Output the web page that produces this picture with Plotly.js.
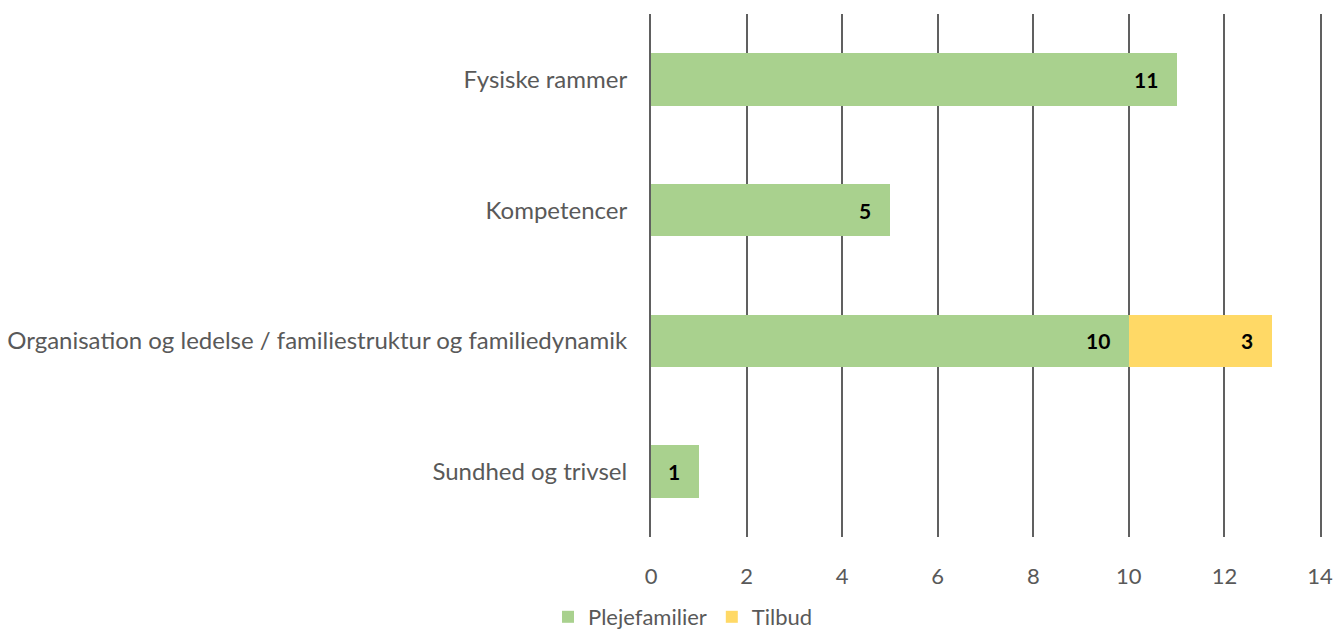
<!DOCTYPE html>
<html>
<head>
<meta charset="utf-8">
<script src="https://cdn.plot.ly/plotly-3.0.1.min.js"></script>
<style>html,body{margin:0;padding:0;background:#fff;}#chart{width:1334px;height:638px;}</style>
</head>
<body>
<div id="chart"></div>
<script>
const categories = ["Fysiske rammer", "Kompetencer", "Organisation og ledelse / familiestruktur og familiedynamik", "Sundhed og trivsel"];
const plejefamilier = [11, 5, 10, 1];
const tilbud = [0, 0, 3, 0];
const xTicks = [0, 2, 4, 6, 8, 10, 12, 14];

const green = "#A9D18E", yellow = "#FFD966";
const fontFam = "Lato, 'Open Sans', sans-serif";
const gridCol = "#606060";

const traces = [
  {type: "bar", orientation: "h", name: "Plejefamilier", y: categories, x: plejefamilier,
   marker: {color: green}, hoverinfo: "x"},
  {type: "bar", orientation: "h", name: "Tilbud", y: categories, x: tilbud,
   marker: {color: yellow}, hoverinfo: "x"}
];

const annotations = [];
categories.forEach((c, i) => {
  if (plejefamilier[i] > 0) annotations.push({x: plejefamilier[i], y: c, xref: "x", yref: "y",
    text: "<b>" + plejefamilier[i] + "</b>", showarrow: false, xanchor: "right", xshift: -17,
    font: {family: fontFam, size: 21, color: "#000"}});
  if (tilbud[i] > 0) annotations.push({x: plejefamilier[i] + tilbud[i], y: c, xref: "x", yref: "y",
    text: "<b>" + tilbud[i] + "</b>", showarrow: false, xanchor: "right", xshift: -17,
    font: {family: fontFam, size: 21, color: "#000"}});
});

const layout = {
  width: 1334, height: 638,
  margin: {l: 651, r: 14, t: 14, b: 101},
  barmode: "stack", bargap: 0.6,
  paper_bgcolor: "#fff", plot_bgcolor: "#fff",
  font: {family: fontFam, size: 23, color: "#595959"},
  xaxis: {range: [0, 14], tickvals: xTicks, ticktext: xTicks.map(String),
    showgrid: true, gridcolor: gridCol, gridwidth: 2, zeroline: false,
    showline: false, ticks: "outside", ticklen: 20, tickcolor: "rgba(0,0,0,0)",
    tickfont: {family: fontFam, size: 22, color: "#595959"}, fixedrange: true},
  yaxis: {autorange: "reversed", type: "category", showgrid: false, zeroline: false,
    showline: true, mirror: true, linecolor: gridCol, linewidth: 2,
    ticks: "outside", ticklen: 17, tickcolor: "rgba(0,0,0,0)",
    tickfont: {family: fontFam, size: 24, color: "#595959"}},
  showlegend: true,
  legend: {orientation: "h", xref: "container", yref: "container", x: 0.512, y: 0.0,
    xanchor: "center", yanchor: "bottom", font: {family: fontFam, size: 22, color: "#595959"},
    itemwidth: 30, traceorder: "normal", tracegroupgap: 0},
  annotations: annotations
};

Plotly.newPlot("chart", traces, layout, {displayModeBar: false, staticPlot: true});
</script>
</body>
</html>
